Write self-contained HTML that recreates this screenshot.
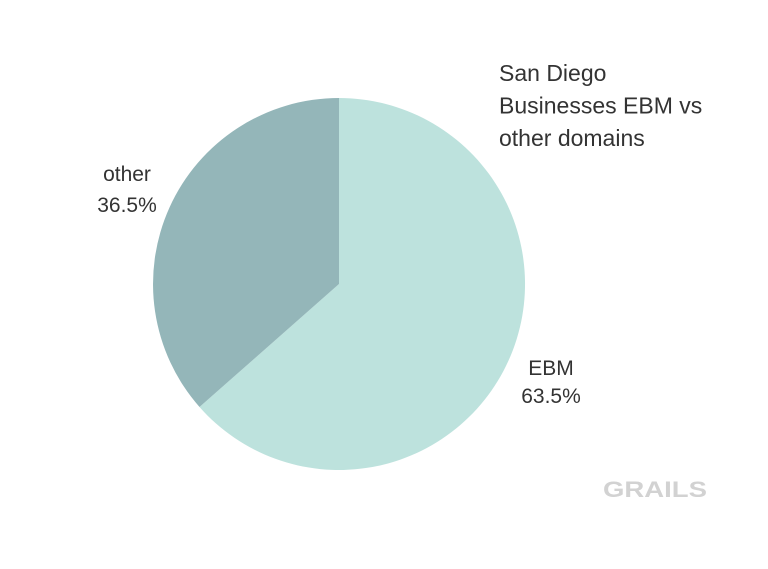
<!DOCTYPE html>
<html>
<head>
<meta charset="utf-8">
<style>
  html, body { margin: 0; padding: 0; background: #ffffff; }
  body { width: 768px; height: 569px; overflow: hidden; }
  svg { display: block; }
  text { font-family: "Liberation Sans", sans-serif; }
</style>
</head>
<body>
<svg width="768" height="569" viewBox="0 0 768 569" xmlns="http://www.w3.org/2000/svg">
  <rect width="768" height="569" fill="#ffffff"/>
  <!-- EBM slice 63.5% -->
  <path d="M339,284 L339,98 A186,186 0 1,1 199.5,407 Z" fill="#bde2dd"/>
  <!-- other slice 36.5% -->
  <path d="M339,284 L199.5,407 A186,186 0 0,1 339,98 Z" fill="#94b6b9"/>

  <!-- title -->
  <g fill="#333333" font-size="23">
    <text x="499" y="81">San Diego</text>
    <text x="499" y="113.5">Businesses EBM vs</text>
    <text x="499" y="146">other domains</text>
  </g>

  <!-- labels -->
  <g fill="#333333" font-size="21" text-anchor="middle">
    <text x="127" y="181">other</text>
    <text x="127" y="212">36.5%</text>
    <text x="551" y="375">EBM</text>
    <text x="551" y="403">63.5%</text>
  </g>

  <!-- logo -->
  <text x="603" y="497" font-size="22" font-weight="bold" fill="#d2d2d2" textLength="104" lengthAdjust="spacingAndGlyphs">GRAILS</text>
</svg>
</body>
</html>
